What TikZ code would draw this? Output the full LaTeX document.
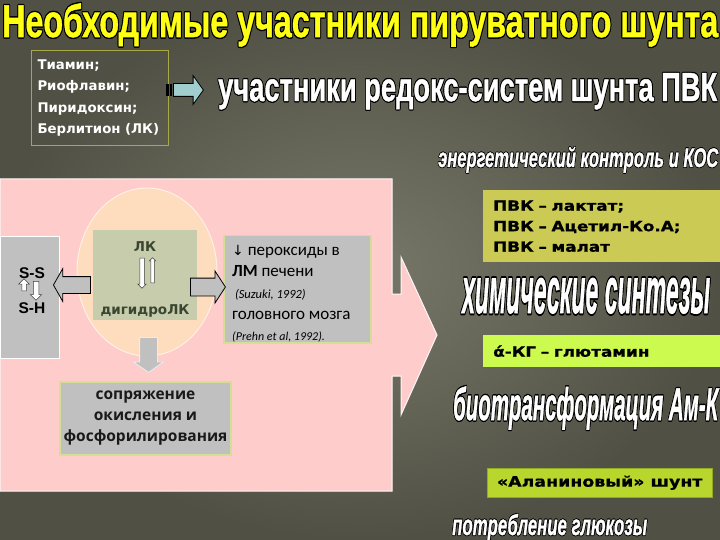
\documentclass[tikz,border=0pt]{standalone}
\usepackage{fontspec}
\usepackage{graphicx}
\setmainfont{DejaVu Sans}
\newfontfamily\headfont{Liberation Sans Bold}[ItalicFont={Liberation Sans Bold Italic}, FakeBold=1.2]
\newfontfamily\verdfont{DejaVu Sans}
\newfontfamily\widefont{DejaVu Sans}[FakeStretch=1.2, FakeBold=0.8]
\newfontfamily\calfont{Carlito}
\newfontfamily\openfont{Open Sans}
\newfontfamily\arialfont{Liberation Sans}
\usetikzlibrary{shapes.geometric, shapes.arrows, positioning, calc}

\definecolor{bgdark}{RGB}{80, 80, 68}
\definecolor{bglight}{RGB}{120, 120, 106}
\definecolor{panelpink}{RGB}{255, 204, 204}
\definecolor{cellpeach}{RGB}{254, 220, 190}
\definecolor{lksage}{RGB}{198, 204, 172}
\definecolor{lktext}{RGB}{58, 70, 48}
\definecolor{boxgray}{RGB}{192, 192, 192}
\definecolor{boxedge}{RGB}{214, 222, 150}
\definecolor{pvkolive}{RGB}{202, 202, 84}
\definecolor{kglime}{RGB}{204, 250, 78}
\definecolor{alagreen}{RGB}{184, 214, 44}
\definecolor{vitedge}{RGB}{168, 168, 70}
\definecolor{arrowcyan}{RGB}{160, 206, 206}
\definecolor{titleyellow}{RGB}{255, 255, 20}

% white or yellow letters with a thin black edge
\newcommand{\edged}[2]{%
  \leavevmode
  \rlap{\color{black}\kern0.6pt#2}%
  \rlap{\color{black}\kern-0.6pt#2}%
  \rlap{\color{black}\raisebox{0.6pt}{#2}}%
  \rlap{\color{black}\raisebox{-0.6pt}{#2}}%
  \rlap{\color{black}\kern0.45pt\raisebox{0.45pt}{#2}}%
  \rlap{\color{black}\kern-0.45pt\raisebox{-0.45pt}{#2}}%
  \rlap{\color{black}\kern0.45pt\raisebox{-0.45pt}{#2}}%
  \rlap{\color{black}\kern-0.45pt\raisebox{0.45pt}{#2}}%
  {\color{#1}#2}}

\begin{document}
\begin{tikzpicture}[x=1bp, y=-1bp,
  blockarrow/.style={single arrow, draw=black, fill=boxgray, line width=0.8bp, inner sep=0pt, minimum width=0pt},
  thinarrow/.style={single arrow, draw=black!75, fill=white, line width=0.5bp, inner sep=0pt, minimum width=0pt},
  graybox/.style={fill=boxgray, inner sep=0pt},
  tagbox/.style={anchor=north west, inner sep=0pt, font=\widefont\bfseries\fontsize{14bp}{20.5bp}\selectfont, text=black},
  heading/.style={anchor=base west, inner sep=0pt}]

  % background
  \useasboundingbox (0,0) rectangle (720,540);
  \clip (0,0) rectangle (720,540);
  \shade[inner color=bglight, outer color=bgdark] (0,0) rectangle (720,540);

  % title
  \node[heading] (title) at (2,37) {\resizebox{716bp}{35bp}{\headfont\fontsize{20}{24}\selectfont\edged{titleyellow}{Необходимые участники пируватного шунта}}};

  % vitamins
  \node[draw=vitedge, line width=1bp, anchor=north west, minimum width=137bp, minimum height=95bp, text width=125bp, inner xsep=6bp, align=left, text=white, font=\verdfont\bfseries\fontsize{13.3bp}{21.5bp}\selectfont] (vitamins) at (31,50) {Тиамин;\\Риофлавин;\\Пиридоксин;\\Берлитион (ЛК)};
  \fill (166,84) rectangle (168.5,96);
  \fill (169.5,84) rectangle (172,96);
  \node[single arrow, draw=black, fill=arrowcyan, line width=0.8bp, inner sep=0pt, minimum width=0pt, text height=12bp, text depth=0pt, minimum height=30bp, single arrow head extend=8bp, single arrow tip angle=109, anchor=tail] (vitarrow) at (173,90) {};

  % headings on the right
  \node[heading] (redox) at (218,101) {\resizebox{499bp}{29bp}{\headfont\fontsize{20}{24}\selectfont\edged{white}{участники редокс-систем шунта ПВК}}};
  \node[heading] (energy) at (438,167) {\resizebox{280bp}{21bp}{\headfont\itshape\fontsize{20}{24}\selectfont\edged{white}{энергетический контроль и КОС}}};
  \node[heading] (chem) at (462,313) {\resizebox{248bp}{37bp}{\headfont\itshape\fontsize{20}{24}\selectfont\edged{white}{химические синтезы}}};
  \node[heading] (biotrans) at (453,420) {\resizebox{265bp}{35bp}{\headfont\itshape\fontsize{20}{24}\selectfont\edged{white}{биотрансформация Ам-К}}};
  \node[heading] (glucose) at (452,535) {\resizebox{195bp}{22bp}{\headfont\itshape\fontsize{20}{24}\selectfont\edged{white}{потребление глюкозы}}};

  % pink panel with its arrow
  \filldraw[fill=panelpink, draw=white!85!panelpink, line width=1bp] (0,179) -- (392,179) -- (392,294) -- (401,294) -- (401,257) -- (437,335) -- (401,415) -- (401,376) -- (392,376) -- (392,491) -- (0,491) -- cycle;

  % lipoic acid cell
  \node[ellipse, fill=cellpeach, draw=cellpeach!40!white, line width=1bp, minimum width=140bp, minimum height=168bp] (cell) at (147,272) {};
  \node[fill=lksage, minimum width=104bp, minimum height=90bp, inner sep=0pt] (lkbox) at (145,275) {};
  \node[font=\verdfont\bfseries\fontsize{13.5bp}{14bp}\selectfont, text=lktext, inner sep=0pt] (lk) at (145,247) {ЛК};
  \node[font=\verdfont\bfseries\fontsize{13.5bp}{14bp}\selectfont, text=lktext, inner sep=0pt] (dlk) at (145,311) {дигидроЛК};
  \node[thinarrow, text height=4bp, text depth=0pt, minimum height=30bp, single arrow head extend=2bp, rotate=-90, anchor=tail] (reduce) at (142,258) {};
  \node[thinarrow, text height=3bp, text depth=0pt, minimum height=25bp, single arrow head extend=1.5bp, rotate=90, anchor=tail] (oxidise) at (152.5,283) {};

  % thiol groups
  \node[graybox, draw=white, line width=1bp, anchor=north west, minimum width=59bp, minimum height=122bp] (ssbox) at (0,236) {};
  \node[font=\arialfont\bfseries\fontsize{15.5bp}{16bp}\selectfont, inner sep=0pt] (ss) at (32,273) {S-S};
  \node[font=\arialfont\bfseries\fontsize{15.5bp}{16bp}\selectfont, inner sep=0pt] (sh) at (32,308) {S-H};
  \node[thinarrow, text height=4bp, text depth=0pt, minimum height=12bp, single arrow head extend=3bp, rotate=90, anchor=tail] (ssup) at (24,291) {};
  \node[thinarrow, text height=5bp, text depth=0pt, minimum height=19bp, single arrow head extend=3bp, rotate=-90, anchor=tail] (ssdown) at (36,281) {};

  % peroxides
  \node[graybox, draw=boxedge, line width=1.5bp, anchor=north west, minimum width=147bp, minimum height=107bp] (perox) at (223,235) {};
  \node[anchor=north west, inner sep=0pt, align=left, font=\calfont\fontsize{17bp}{21.3bp}\selectfont] (peroxtext) at (232,245) {{\verdfont\fontsize{14bp}{14bp}\selectfont↓} пероксиды в\\\textbf{ЛМ} печени\\{\itshape\fontsize{12.5bp}{14bp}\selectfont\ (Suzuki, 1992)}\\головного мозга\\{\itshape\fontsize{12bp}{14bp}\selectfont(Prehn et al, 1992).}};

  % coupling
  \node[graybox, draw=boxedge, line width=1.5bp, minimum width=171bp, minimum height=73bp, align=center, font=\openfont\bfseries\fontsize{15.5bp}{21bp}\selectfont, text=black!90] (couple) at (145.5,418.5) {сопряжение\\окисления и\\фосфорилирования};

  % block arrows
  \node[blockarrow, text height=16bp, text depth=0pt, minimum height=37bp, single arrow head extend=8bp, single arrow tip angle=121, shape border rotate=180, anchor=tip] (tossbox) at (53,285) {};
  \node[blockarrow, text height=17bp, text depth=0pt, minimum height=35bp, single arrow head extend=7bp, single arrow tip angle=114, anchor=tail] (toperox) at (190,287) {};
  \node[blockarrow, draw=white!70!boxgray, text height=17bp, text depth=0pt, minimum height=35bp, single arrow head extend=6bp, single arrow tip angle=110, rotate=-90, anchor=tail] (tocouple) at (148.5,337) {};

  % right column
  \node[tagbox, fill=pvkolive, minimum width=245bp, minimum height=72bp, text width=225bp, inner xsep=9bp, align=left] (pvk) at (483,190) {ПВК – лактат;\\ПВК – Ацетил-Ко.А;\\ПВК – малат};
  \node[tagbox, fill=kglime, minimum width=245bp, minimum height=32bp, text width=225bp, inner xsep=9bp, align=left] (kg) at (483,335) {ά-КГ – глютамин};
  \node[tagbox, fill=alagreen, draw=alagreen!80!black, minimum width=225bp, minimum height=29bp, align=center, font=\widefont\bfseries\fontsize{14.5bp}{16bp}\selectfont] (ala) at (487,468) {«Аланиновый» шунт};
\end{tikzpicture}
\end{document}
